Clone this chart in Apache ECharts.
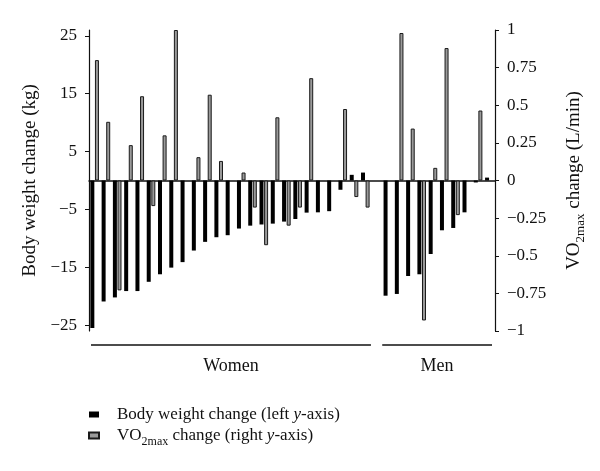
<!DOCTYPE html>
<html>
<head>
<meta charset="utf-8">
<script src="https://cdn.jsdelivr.net/npm/echarts@6/dist/echarts.min.js"></script>
<style>html,body{margin:0;padding:0;background:#fff}#c{width:600px;height:471px}</style>
</head>
<body>
<div id="c"></div>
<script>
// Women (25 subjects), a gap, then Men (10 subjects)
const womenWeight = [-25.5, -20.9, -20.2, -19.1, -19.1, -17.5, -16.2, -15.05, -14.1, -12.1, -10.6, -9.8, -9.45, -8.3, -7.8, -7.6, -7.45, -7.1, -6.65, -5.55, -5.5, -5.3, -1.6, 0.98, 1.37];
const menWeight = [-19.9, -19.6, -16.5, -16.2, -12.7, -8.6, -8.2, -5.5, -0.34, 0.5];
const womenVO2 = [0.80, 0.39, -0.73, 0.235, 0.56, -0.17, 0.30, 1.00, null, 0.155, 0.57, 0.13, null, 0.053, -0.18, -0.43, 0.42, -0.30, -0.18, 0.68, null, null, 0.475, -0.11, -0.18];
const menVO2 = [null, 0.98, 0.345, -0.93, 0.084, 0.88, -0.23, null, 0.465, null];
const leftTicks = [-25, -15, -5, 5, 15, 25];
const groupNames = ['Women', 'Men'];
const seriesNames = ['Body weight change (left y-axis)', 'VO2max change (right y-axis)'];

const categories = [];
womenWeight.forEach((v, i) => categories.push('W' + (i + 1)));
categories.push('gap');
menWeight.forEach((v, i) => categories.push('M' + (i + 1)));
const weightData = womenWeight.concat([null], menWeight);
const vo2Data = womenVO2.concat([null], menVO2);

const FONT = 'Liberation Serif';
const minus = s => String(s).replace('-', '\u2212');

const chart = echarts.init(document.getElementById('c'), null, {renderer: 'canvas'});
chart.setOption({
  animation: false,
  textStyle: {fontFamily: FONT},
  grid: {left: 89, right: 105, top: 30, bottom: 140, containLabel: false},
  legend: {
    orient: 'vertical', left: 83, top: 401,
    itemWidth: 10, itemHeight: 6, itemGap: 4,
    icon: 'rect',
    data: seriesNames,
    formatter: function (name) {
      if (name === seriesNames[0]) return '{a|Body weight change (left }{i|y}{a|-axis)}';
      return '{a|VO}{s|2max}{a| change (right }{i|y}{a|-axis)}';
    },
    textStyle: {
      fontFamily: FONT, fontSize: 17, color: '#111', padding: [0, 0, 0, 13],
      rich: {
        a: {fontFamily: FONT, fontSize: 17, color: '#111', height: 20, verticalAlign: 'bottom'},
        i: {fontFamily: FONT, fontSize: 17, fontStyle: 'italic', color: '#111', height: 20, verticalAlign: 'bottom'},
        s: {fontFamily: FONT, fontSize: 12, color: '#111', height: 15, verticalAlign: 'bottom', padding: [0, 0, -4, 0]}
      }
    }
  },
  xAxis: {
    type: 'category', data: categories,
    axisLine: {onZero: true, lineStyle: {color: '#111', width: 1.5}},
    axisTick: {show: false}, axisLabel: {show: false}, splitLine: {show: false}
  },
  yAxis: [{
    type: 'value', position: 'left', min: -26, max: 26,
    name: 'Body weight change (kg)', nameLocation: 'middle', nameGap: 49, nameRotate: 90,
    nameTextStyle: {fontFamily: FONT, fontSize: 19, color: '#111'},
    axisLine: {show: true, onZero: false, lineStyle: {color: '#111', width: 1.2}},
    axisTick: {show: true, length: 4, customValues: leftTicks, lineStyle: {color: '#111'}},
    axisLabel: {customValues: leftTicks, formatter: minus, margin: 12, fontFamily: FONT, fontSize: 17, color: '#111'},
    splitLine: {show: false}
  }, {
    type: 'value', position: 'right', min: -1, max: 1, interval: 0.25,
    name: '{a|VO}{s|2max}{a| change (L/min)}', nameLocation: 'middle', nameGap: 68, nameRotate: 90,
    nameTextStyle: {
      fontFamily: FONT, fontSize: 19, color: '#111',
      rich: {
        a: {fontFamily: FONT, fontSize: 19, color: '#111', height: 22, verticalAlign: 'bottom'},
        s: {fontFamily: FONT, fontSize: 13, color: '#111', height: 16, verticalAlign: 'bottom', padding: [0, 0, -4, 0]}
      }
    },
    axisLine: {show: true, onZero: false, lineStyle: {color: '#111', width: 1.2}},
    axisTick: {show: true, length: 4, lineStyle: {color: '#111'}},
    axisLabel: {formatter: minus, margin: 12, fontFamily: FONT, fontSize: 17, color: '#111'},
    splitLine: {show: false}
  }],
  series: [{
    name: seriesNames[0], type: 'bar', yAxisIndex: 0, data: weightData,
    barWidth: 4, barGap: '15%',
    itemStyle: {color: '#000'}
  }, {
    name: seriesNames[1], type: 'bar', yAxisIndex: 1, data: vo2Data,
    barWidth: 4,
    itemStyle: {color: '#9a9a9a', borderColor: '#1a1a1a', borderWidth: 1}
  }]
});

function drawGroups() {
  const c0 = chart.convertToPixel({xAxisIndex: 0}, categories[0]);
  const c1 = chart.convertToPixel({xAxisIndex: 0}, categories[1]);
  const half = (c1 - c0) / 2;
  const wStart = c0 - half + 2;
  const wEnd = chart.convertToPixel({xAxisIndex: 0}, categories[womenWeight.length - 1]) + half;
  const mStart = chart.convertToPixel({xAxisIndex: 0}, categories[womenWeight.length + 1]) - half;
  const mEnd = chart.convertToPixel({xAxisIndex: 0}, categories[categories.length - 1]) + half - 3;
  const yLine = 345, yText = 366;
  chart.setOption({
    graphic: [
      {type: 'line', shape: {x1: wStart, y1: yLine, x2: wEnd, y2: yLine}, style: {stroke: '#111', lineWidth: 1.3}},
      {type: 'line', shape: {x1: mStart, y1: yLine, x2: mEnd, y2: yLine}, style: {stroke: '#111', lineWidth: 1.3}},
      {type: 'text', x: (wStart + wEnd) / 2, y: yText, style: {text: groupNames[0], font: '18px "Liberation Serif"', fill: '#111', align: 'center', verticalAlign: 'middle'}},
      {type: 'text', x: (mStart + mEnd) / 2, y: yText, style: {text: groupNames[1], font: '18px "Liberation Serif"', fill: '#111', align: 'center', verticalAlign: 'middle'}}
    ]
  });
}
drawGroups();
</script>
</body>
</html>
